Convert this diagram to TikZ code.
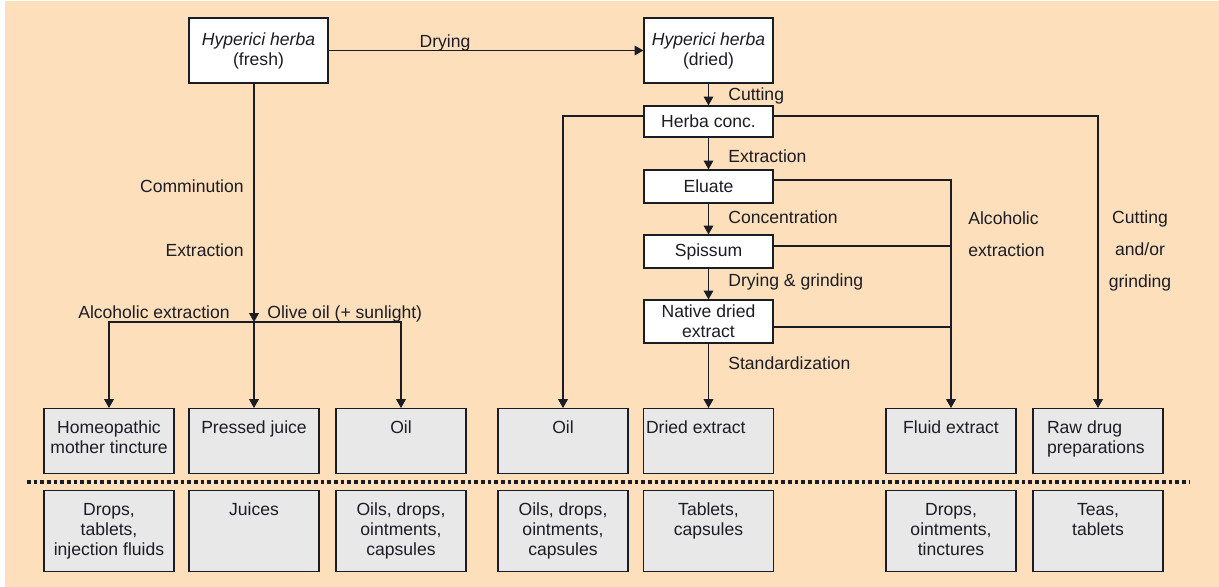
\documentclass[tikz,border=0pt]{standalone}
\usepackage{fontspec}
\setmainfont{Liberation Sans}
\usetikzlibrary{arrows.meta}
\definecolor{peach}{RGB}{253,223,187}
\definecolor{boxgray}{RGB}{232,232,232}
\definecolor{ink}{RGB}{28,28,36}
% text of a product box, set from the top
\newcommand{\prodtext}[3][\centering]{\parbox[c][#2][t]{2.5cm}{#1\rule{0pt}{0.5cm}#3}}

\begin{document}
\begin{tikzpicture}[x=0.02cm, y=-0.02cm,
    font=\fontsize{10pt}{11.4pt}\selectfont,
    every node/.style={text=ink},
    topbox/.style={draw=ink, fill=white, line width=0.7pt, inner sep=0pt, minimum width=2.58cm, align=center},
    prodbox/.style={draw=ink, fill=boxgray, line width=0.7pt, inner sep=0pt, minimum width=2.6cm, anchor=north},
    lbl/.style={inner sep=0pt},
    arr/.style={-{Triangle[length=5pt,width=5.5pt]}, line width=0.6pt, draw=ink},
    link/.style={line width=0.6pt, draw=ink}]

    \useasboundingbox (0,0) rectangle (1219,587);
    \fill[peach] (5,1) rectangle (1219,587);

    % raw material and processing steps
    \node[topbox, minimum width=2.78cm, minimum height=1.3cm] (fresh) at (258.5,50.5) {\textit{Hyperici herba}\\(fresh)};
    \node[topbox, minimum height=1.3cm] (dried) at (708.5,50.5) {\textit{Hyperici herba}\\(dried)};
    \node[topbox, minimum height=0.62cm] (conc) at (708.5,121.5) {Herba conc.};
    \node[topbox, minimum height=0.66cm] (eluate) at (708.5,186.5) {Eluate};
    \node[topbox, minimum height=0.66cm] (spissum) at (708.5,251.5) {Spissum};
    \node[topbox, minimum height=0.86cm] (native) at (708.5,321.5) {Native dried\\extract};

    % products
    \node[prodbox] (tincture) at (109,408) {\prodtext{1.3cm}{Homeopathic\\mother tincture}};
    \node[prodbox] (juice) at (254,408) {\prodtext{1.3cm}{Pressed juice}};
    \node[prodbox] (oilmac) at (401,408) {\prodtext{1.3cm}{Oil}};
    \node[prodbox] (oildry) at (563,408) {\prodtext{1.3cm}{Oil}};
    \node[prodbox] (dryext) at (708.5,408) {\prodtext[\raggedright]{1.3cm}{Dried extract}};
    \node[prodbox] (fluid) at (951,408) {\prodtext{1.3cm}{Fluid extract}};
    \node[prodbox] (raw) at (1098,408) {\prodtext[\raggedright\leftskip=0.23cm\relax]{1.3cm}{Raw drug\\preparations}};

    % dosage forms
    \node[prodbox] (tinctureuse) at (109,490) {\prodtext{1.62cm}{Drops,\\tablets,\\injection fluids}};
    \node[prodbox] (juiceuse) at (254,490) {\prodtext{1.62cm}{Juices}};
    \node[prodbox] (oilmacuse) at (401,490) {\prodtext{1.62cm}{Oils, drops,\\ointments,\\capsules}};
    \node[prodbox] (oildryuse) at (563,490) {\prodtext{1.62cm}{Oils, drops,\\ointments,\\capsules}};
    \node[prodbox] (dryextuse) at (708.5,490) {\prodtext{1.62cm}{Tablets,\\capsules}};
    \node[prodbox] (fluiduse) at (951,490) {\prodtext{1.62cm}{Drops,\\ointments,\\tinctures}};
    \node[prodbox] (rawuse) at (1098,490) {\prodtext{1.62cm}{Teas,\\tablets}};

    \coordinate (dotL) at (27,482);
    \coordinate (dotR) at (1190,482);
    \draw[ink, line width=2.1pt, dash pattern=on 2.1pt off 1.7pt] (dotL) -- (dotR);

    % fresh herb
    \coordinate (split) at (254,322);
    \draw[arr] (fresh) -- (dried);
    \draw[arr] (fresh.south -| split) -- (split);
    \draw[arr] (split) -- (juice.north);
    \draw[arr] (split) -| (tincture.north);
    \draw[arr] (split) -| (oilmac.north);

    % dried herb
    \draw[arr] (dried) -- (conc);
    \draw[arr] (conc) -- (eluate);
    \draw[arr] (eluate) -- (spissum);
    \draw[arr] (spissum) -- (native);
    \draw[arr] (native) -- (dryext);
    \draw[arr] (conc.west |- 0,116) -| (oildry.north);
    \draw[arr] (conc.east |- 0,116) -| (raw.north);
    \draw[arr] (eluate.east |- 0,180) -| (fluid.north);
    \draw[link] (spissum.east |- 0,246) -- (fluid.north |- 0,246);
    \draw[link] (native.east |- 0,327) -- (fluid.north |- 0,327);

    % step labels
    \node[lbl, anchor=base] (dryinglbl) at (445,48) {Drying};
    \node[lbl, anchor=base east] (comminlbl) at (244,193) {Comminution};
    \node[lbl, anchor=base east] (extrfreshlbl) at (244,256) {Extraction};
    \node[lbl, anchor=base east] (alcfreshlbl) at (230,318) {Alcoholic extraction};
    \node[lbl, anchor=base west] (olivelbl) at (267,318) {Olive oil (+ sunlight)};
    \node[lbl, anchor=base west] (cuttinglbl) at (728,101) {Cutting};
    \node[lbl, anchor=base west] (extrlbl) at (728,163) {Extraction};
    \node[lbl, anchor=base west] (concentrlbl) at (728,224) {Concentration};
    \node[lbl, anchor=base west] (grindlbl) at (728,287) {Drying \& grinding};
    \node[lbl, anchor=base west] (stdlbl) at (728,369) {Standardization};
    \node[lbl, anchor=west, align=left, font=\fontsize{10pt}{18.2pt}\selectfont] (alclbl) at (968,234) {Alcoholic\\extraction};
    \node[lbl, align=center, font=\fontsize{10pt}{18.2pt}\selectfont] (rawlbl) at (1140,251) {Cutting\\and/or\\grinding};
\end{tikzpicture}
\end{document}
